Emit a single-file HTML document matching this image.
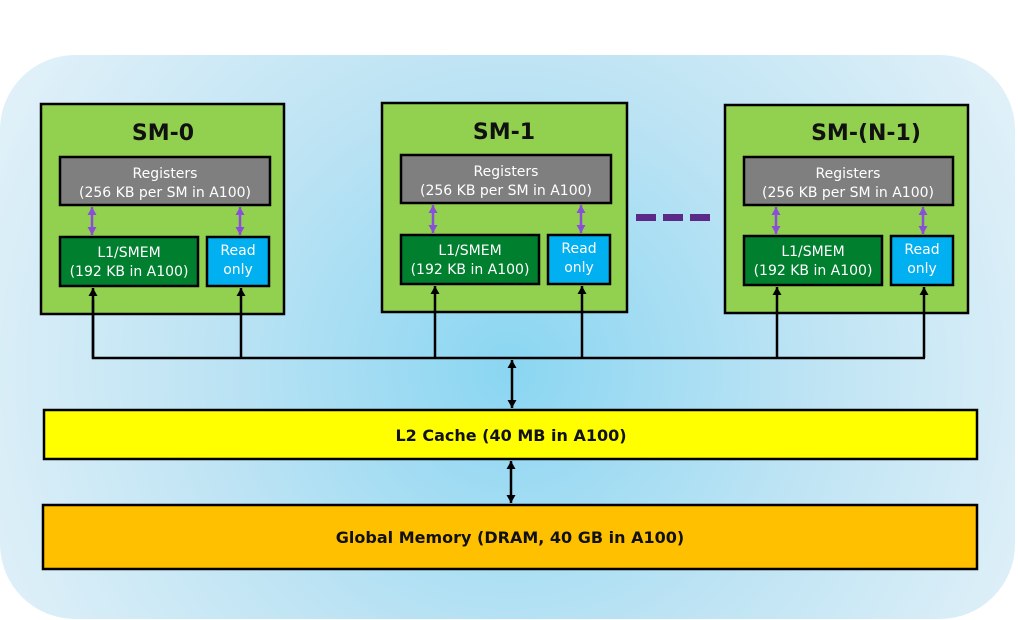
<!DOCTYPE html>
<html><head><meta charset="utf-8"><style>
html,body{margin:0;padding:0;background:#fff;}
svg{display:block;}
text{font-family:"DejaVu Sans","Liberation Sans",sans-serif;}
</style></head><body>
<svg width="1018" height="620" viewBox="0 0 1018 620" xmlns="http://www.w3.org/2000/svg">
<defs>
<radialGradient id="bg" cx="510" cy="370" r="560" gradientUnits="userSpaceOnUse">
<stop offset="0" stop-color="#8ad6f2"/>
<stop offset="0.55" stop-color="#bfe4f4"/>
<stop offset="1" stop-color="#dff0f8"/>
</radialGradient>
<marker id="ab" markerWidth="8" markerHeight="9" refX="8" refY="4.5" orient="auto-start-reverse" markerUnits="userSpaceOnUse"><path d="M0,0 L8,4.5 L0,9 z" fill="#000"/></marker>
<marker id="ap" markerWidth="8" markerHeight="9" refX="8" refY="4.5" orient="auto-start-reverse" markerUnits="userSpaceOnUse"><path d="M0,0 L8,4.5 L0,9 z" fill="#8a4fd8"/></marker>
</defs>
<rect x="0" y="55" width="1015" height="564" rx="75" ry="75" fill="url(#bg)"/>

<g stroke="#000" stroke-width="2.5">
<rect x="41" y="104" width="243" height="210" fill="#92d050"/>
<rect x="60" y="157" width="210" height="48" fill="#7f7f7f"/>
<rect x="60" y="237" width="138" height="49" fill="#00802f"/>
<rect x="207" y="237" width="62" height="49" fill="#00b0f0"/>
<rect x="382" y="103" width="245" height="209" fill="#92d050"/>
<rect x="401" y="155" width="210" height="48" fill="#7f7f7f"/>
<rect x="401" y="235" width="138" height="49" fill="#00802f"/>
<rect x="548" y="235" width="62" height="49" fill="#00b0f0"/>
<rect x="725" y="105" width="243" height="208" fill="#92d050"/>
<rect x="744" y="157" width="209" height="48" fill="#7f7f7f"/>
<rect x="744" y="236" width="138" height="49" fill="#00802f"/>
<rect x="891" y="236" width="62" height="49" fill="#00b0f0"/>
<rect x="44" y="410" width="933" height="49" fill="#ffff00"/>
<rect x="43" y="505" width="934" height="64" fill="#ffc000"/>
</g>

<g stroke="#8a4fd8" stroke-width="2.5">
<line x1="92" y1="207" x2="92" y2="235" marker-start="url(#ap)" marker-end="url(#ap)"/>
<line x1="240" y1="207" x2="240" y2="235" marker-start="url(#ap)" marker-end="url(#ap)"/>
<line x1="433" y1="205" x2="433" y2="233" marker-start="url(#ap)" marker-end="url(#ap)"/>
<line x1="581" y1="205" x2="581" y2="233" marker-start="url(#ap)" marker-end="url(#ap)"/>
<line x1="776" y1="207" x2="776" y2="234" marker-start="url(#ap)" marker-end="url(#ap)"/>
<line x1="923" y1="207" x2="923" y2="234" marker-start="url(#ap)" marker-end="url(#ap)"/>
</g>

<g fill="#5b2a86">
<rect x="636" y="214" width="20" height="7"/>
<rect x="663" y="214" width="20" height="7"/>
<rect x="690" y="214" width="20" height="7"/>
</g>

<g stroke="#000" stroke-width="2.5" fill="none">
<polyline points="93,300 93,358 925,358"/>
<line x1="93" y1="358" x2="93" y2="288" marker-end="url(#ab)"/>
<line x1="241" y1="358" x2="241" y2="288" marker-end="url(#ab)"/>
<line x1="435" y1="358" x2="435" y2="286" marker-end="url(#ab)"/>
<line x1="582" y1="358" x2="582" y2="286" marker-end="url(#ab)"/>
<line x1="777" y1="358" x2="777" y2="287" marker-end="url(#ab)"/>
<line x1="924" y1="358" x2="924" y2="287" marker-end="url(#ab)"/>
<line x1="512" y1="360" x2="512" y2="408" marker-start="url(#ab)" marker-end="url(#ab)"/>
<line x1="511" y1="461" x2="511" y2="503" marker-start="url(#ab)" marker-end="url(#ab)"/>
</g>

<g font-weight="bold" font-size="22" fill="#111" text-anchor="middle">
<text x="163" y="140">SM-0</text>
<text x="504" y="139">SM-1</text>
<text x="866" y="140">SM-(N-1)</text>
</g>
<g font-size="14" fill="#fff" text-anchor="middle">
<text x="165" y="178">Registers</text>
<text x="165" y="197">(256 KB per SM in A100)</text>
<text x="506" y="176">Registers</text>
<text x="506" y="195">(256 KB per SM in A100)</text>
<text x="848" y="178">Registers</text>
<text x="848" y="197">(256 KB per SM in A100)</text>
<text x="129" y="257">L1/SMEM</text>
<text x="129" y="276">(192 KB in A100)</text>
<text x="470" y="255">L1/SMEM</text>
<text x="470" y="274">(192 KB in A100)</text>
<text x="813" y="256">L1/SMEM</text>
<text x="813" y="275">(192 KB in A100)</text>
<text x="238" y="255">Read</text>
<text x="238" y="274">only</text>
<text x="579" y="253">Read</text>
<text x="579" y="272">only</text>
<text x="922" y="254">Read</text>
<text x="922" y="273">only</text>
</g>
<g font-weight="bold" font-size="16" fill="#111" text-anchor="middle">
<text x="511" y="441">L2 Cache (40 MB in A100)</text>
<text x="510" y="543">Global Memory (DRAM, 40 GB in A100)</text>
</g>
</svg>
</body></html>
